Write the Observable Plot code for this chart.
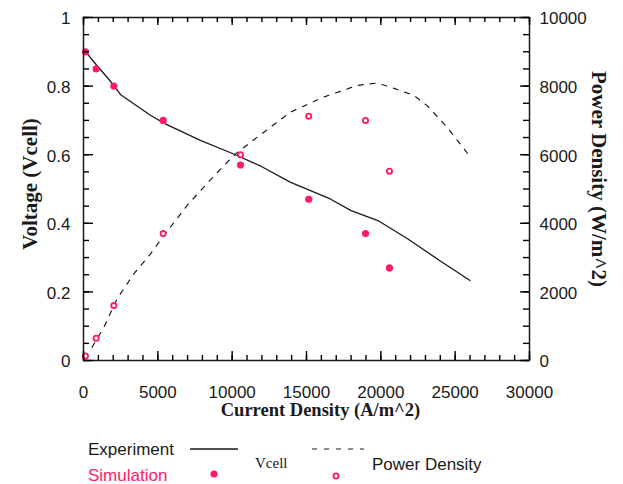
<!DOCTYPE html>
<html><head><meta charset="utf-8">
<script src="https://cdn.jsdelivr.net/npm/d3@7"></script>
<script src="https://cdn.jsdelivr.net/npm/@observablehq/plot@0.6"></script>
<style>
body{margin:0;background:#fff;}
#wrap{position:relative;width:623px;height:484px;overflow:hidden;background:#fff;}
#wrap svg.leg{position:absolute;left:0;top:430px;}
</style></head><body><div id="wrap"></div>
<script>
// Experiment: cell voltage vs current density
const expI = [150, 900, 1700, 2500, 3500, 4500, 5500, 7900, 10100, 12000, 13900, 16600, 18000, 19800, 21800, 24000, 26000];
const expV = [0.90, 0.86, 0.82, 0.775, 0.745, 0.715, 0.69, 0.641, 0.602, 0.565, 0.52, 0.471, 0.437, 0.408, 0.355, 0.29, 0.233];
// Experiment: power density vs current density
const expPI = [580, 1370, 2260, 3390, 4510, 5400, 6970, 8500, 10110, 11800, 13920, 16160, 18410, 19750, 20650, 22220, 23110, 24460, 26030];
const expP = [390, 970, 1800, 2530, 3110, 3640, 4520, 5250, 5980, 6550, 7240, 7680, 8020, 8090, 7970, 7730, 7430, 6800, 5930];
// Simulation points
const simI = [130, 850, 2040, 5360, 10560, 15150, 18970, 20580];
const simV = [0.90, 0.85, 0.80, 0.70, 0.57, 0.47, 0.37, 0.27];
const simP = [130, 650, 1600, 3700, 6000, 7120, 7000, 5520];
// Axes
const xMax = 30000;
const xMajor = [0, 5000, 10000, 15000, 20000, 25000, 30000];
const xMinor = d3.range(0, 31).map(i => i * 1000);
const yMajor = [0, 0.2, 0.4, 0.6, 0.8, 1];
const yMinor = d3.range(0, 21).map(i => i / 20);
const pMax = 10000;
const pLabels = ["0", "2000", "4000", "6000", "8000", "10000"];
const yLabels = ["0", "0.2", "0.4", "0.6", "0.8", "1"];
const titles = {x: "Current Density (A/m^2)", y: "Voltage (Vcell)", y2: "Power Density (W/m^2)"};
const legendSeries = ["Experiment", "Simulation"];
const legendVars = ["Vcell", "Power Density"];

const ink = "#1a1a1a";
const pink = "#ff1a66";
const sans = "'Liberation Sans', Arial, sans-serif";
const serif = "'Liberation Serif', 'Times New Roman', serif";

const W = 623, H = 430, mL = 83, mR = 94, mT = 17, mB = 70;
const fw = W - mL - mR, fh = H - mT - mB;
// tick lengths in pixels, converted to data units for inward ticks
const px2x = L => L / fw * xMax;
const px2y = L => L / fh;
const tw = 1.4;
const tickInk = "#000";

const chart = Plot.plot({
  width: W, height: H,
  marginLeft: mL, marginRight: mR, marginTop: mT, marginBottom: mB,
  style: {fontFamily: sans, fontSize: "17px", color: ink, background: "#fff"},
  x: {domain: [0, xMax]},
  y: {domain: [0, 1]},
  marks: [
    Plot.line(expI, {x: expI, y: expV, stroke: ink, strokeWidth: 1.3}),
    Plot.line(expPI, {x: expPI, y: expP.map(p => p / pMax), stroke: ink, strokeWidth: 1.2, strokeDasharray: "5,7"}),
    Plot.dot(simI, {x: simI, y: simV, r: 3.6, fill: pink, stroke: "none"}),
    Plot.dot(simI, {x: simI, y: simP.map(p => p / pMax), r: 2.6, stroke: pink, strokeWidth: 1.8, fill: "white"}),
    // tick labels
    Plot.axisX(xMajor, {anchor: "bottom", tickSize: 0, tickPadding: 25, tickFormat: d => String(d), label: null}),
    Plot.axisY(yMajor, {anchor: "left", tickSize: 0, tickPadding: 13, dy: 1.5, tickFormat: (d, i) => yLabels[i], label: null}),
    Plot.axisY(yMajor, {anchor: "right", tickSize: 0, tickPadding: 10, dy: 1.5, tickFormat: (d, i) => pLabels[i], label: null}),
    Plot.frame({stroke: ink, strokeWidth: 1.5}),
    // axis titles
    Plot.text([titles.x], {frameAnchor: "bottom", text: d => d, textAnchor: "middle", lineAnchor: "middle", dx: 14, dy: 50, fontFamily: serif, fontWeight: "bold", fontSize: 18.5, fill: ink}),
    Plot.text([titles.y], {frameAnchor: "left", text: d => d, textAnchor: "middle", lineAnchor: "middle", dx: -53, dy: -5, rotate: -90, fontFamily: serif, fontWeight: "bold", fontSize: 21, fill: ink}),
    Plot.text([titles.y2], {frameAnchor: "right", text: d => d, textAnchor: "middle", lineAnchor: "middle", dx: 69, dy: -10, rotate: 90, fontFamily: serif, fontWeight: "bold", fontSize: 21, fill: ink}),
    // inward ticks (drawn last, on top)
    Plot.ruleX(xMinor, {x: d => d, y1: 0, y2: px2y(5), stroke: tickInk, strokeWidth: tw}),
    Plot.ruleX(xMajor, {x: d => d, y1: 0, y2: px2y(9), stroke: tickInk, strokeWidth: tw}),
    Plot.ruleX(xMinor, {x: d => d, y1: 1, y2: 1 - px2y(5), stroke: tickInk, strokeWidth: tw}),
    Plot.ruleX(xMajor, {x: d => d, y1: 1, y2: 1 - px2y(8), stroke: tickInk, strokeWidth: tw}),
    Plot.ruleY(yMinor, {y: d => d, x1: 0, x2: px2x(6), stroke: tickInk, strokeWidth: tw}),
    Plot.ruleY(yMajor, {y: d => d, x1: 0, x2: px2x(10), stroke: tickInk, strokeWidth: tw}),
    Plot.ruleY(yMinor, {y: d => d, x1: xMax, x2: xMax - px2x(6), stroke: tickInk, strokeWidth: tw}),
    Plot.ruleY(yMajor, {y: d => d, x1: xMax, x2: xMax - px2x(9), stroke: tickInk, strokeWidth: tw})
  ]
});
const wrap = document.getElementById("wrap");
wrap.appendChild(chart);

// Legend below the plot (legend svg starts at y = 430)
const oy = -430;
const leg = d3.select(wrap).append("svg").attr("class", "leg").attr("width", 623).attr("height", 54);
leg.append("text").attr("x", 88).attr("y", 455 + oy).attr("font-family", sans).attr("font-size", 17).attr("fill", ink).text(legendSeries[0]);
leg.append("text").attr("x", 88).attr("y", 481 + oy).attr("font-family", sans).attr("font-size", 17).attr("fill", pink).text(legendSeries[1]);
leg.append("line").attr("x1", 190).attr("x2", 238).attr("y1", 449 + oy).attr("y2", 449 + oy).attr("stroke", ink).attr("stroke-width", 1.3);
leg.append("line").attr("x1", 312).attr("x2", 364).attr("y1", 449 + oy).attr("y2", 449 + oy).attr("stroke", ink).attr("stroke-width", 1.2).attr("stroke-dasharray", "5,7");
leg.append("text").attr("x", 255).attr("y", 468 + oy).attr("font-family", serif).attr("font-size", 15).attr("fill", ink).text(legendVars[0]);
leg.append("text").attr("x", 372).attr("y", 470 + oy).attr("font-family", sans).attr("font-size", 17).attr("fill", ink).text(legendVars[1]);
leg.append("circle").attr("cx", 214).attr("cy", 474 + oy).attr("r", 3.6).attr("fill", pink);
leg.append("circle").attr("cx", 336).attr("cy", 476 + oy).attr("r", 2.6).attr("fill", "white").attr("stroke", pink).attr("stroke-width", 1.8);
</script>
</body></html>
